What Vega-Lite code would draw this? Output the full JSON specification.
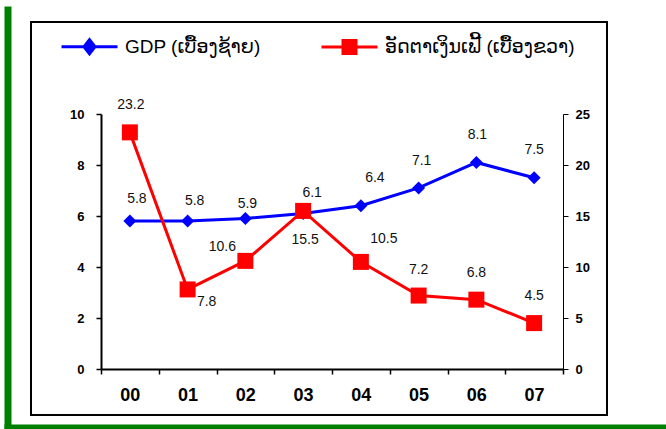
{
  "$schema": "https://vega.github.io/schema/vega-lite/v6.json",
  "width": 576,
  "height": 393,
  "autosize": {"type": "none"},
  "padding": {"left": 31, "top": 22, "right": 59, "bottom": 14},
  "background": "white",
  "config": {"view": {"stroke": "black", "strokeWidth": 2}, "font": "Liberation Sans"},
  "data": {"values": [
    {"year": "00", "gdp": 5.8, "infl": 23.2},
    {"year": "01", "gdp": 5.8, "infl": 7.8},
    {"year": "02", "gdp": 5.9, "infl": 10.6},
    {"year": "03", "gdp": 6.1, "infl": 15.5},
    {"year": "04", "gdp": 6.4, "infl": 10.5},
    {"year": "05", "gdp": 7.1, "infl": 7.2},
    {"year": "06", "gdp": 8.1, "infl": 6.8},
    {"year": "07", "gdp": 7.5, "infl": 4.5}
  ]},
  "resolve": {"scale": {"x": "independent", "y": "independent"}},
  "layer": [
    {
      "layer": [
        {
          "mark": {"type": "line", "strokeWidth": 3},
          "encoding": {
            "x": {"field": "year", "type": "ordinal", "scale": {"type": "band", "range": [70, 532], "paddingInner": 0, "paddingOuter": 0},
              "axis": {"orient": "bottom", "offset": -46, "title": null, "tickBand": "extent", "domainColor": "black", "domainWidth": 2, "tickColor": "black", "tickWidth": 1.5, "tickSize": 5, "labelFont": "Liberation Sans", "labelFontWeight": "bold", "labelFontSize": 18, "labelColor": "black", "labelPadding": 12, "labelAngle": 0, "grid": false}},
            "y": {"field": "gdp", "type": "quantitative", "scale": {"domain": [0, 10], "range": [347, 92], "nice": false, "zero": false},
              "axis": {"orient": "left", "offset": -70, "title": null, "values": [0, 2, 4, 6, 8, 10], "grid": false, "domainColor": "black", "domainWidth": 2, "tickColor": "black", "tickSize": 5, "tickWidth": 1.5, "labelFont": "Liberation Sans", "labelFontWeight": "bold", "labelFontSize": 13, "labelColor": "black", "labelPadding": 12}},
            "color": {"datum": "GDP (ເບື້ອງຊ້າຍ)",
              "scale": {"domain": ["GDP (ເບື້ອງຊ້າຍ)", "ອັດຕາເງິນເຟີ້ (ເບື້ອງຂວາ)"], "range": ["#0000ff", "#ff0000"]},
              "legend": {"orient": "none", "legendX": 47, "legendY": 13, "direction": "horizontal", "title": null, "symbolSize": 400, "labelFontSize": 19, "labelFont": "Liberation Sans, DejaVu Sans", "labelColor": "black", "labelOffset": 24, "labelLimit": 400, "columnPadding": 54,
                "encode": {"symbols": {"update": {
                  "shape": {"signal": "datum.value === 'GDP (ເບື້ອງຊ້າຍ)' ? 'M-2.8,0H2.8M0,-0.7L0.55,0L0,0.7L-0.55,0Z' : 'M-2.8,0H2.8M-0.65,-0.65H0.65V0.65H-0.65Z'"},
                  "fill": {"signal": "datum.value === 'GDP (ເບື້ອງຊ້າຍ)' ? '#0000ff' : '#ff0000'"},
                  "stroke": {"signal": "datum.value === 'GDP (ເບື້ອງຊ້າຍ)' ? '#0000ff' : '#ff0000'"},
                  "strokeWidth": {"value": 3},
                  "opacity": {"value": 1},
                  "fillOpacity": {"value": 1},
                  "size": {"value": 400}
                }}}}}
          }
        },
        {
          "mark": {"type": "point", "shape": "diamond", "filled": true, "size": 169, "color": "#0000ff", "opacity": 1},
          "encoding": {
            "x": {"field": "year", "type": "ordinal", "scale": {"type": "band", "range": [70, 532], "paddingInner": 0, "paddingOuter": 0}},
            "y": {"field": "gdp", "type": "quantitative", "scale": {"domain": [0, 10], "range": [347, 92], "nice": false, "zero": false}}
          }
        },
        {
          "mark": {"type": "text", "fontSize": 14, "color": "#111111", "align": "center", "baseline": "middle",
            "dx": {"expr": "[7,7,2,9,14,3,1,0][toNumber(datum.year)]"},
            "dy": {"expr": "[-22,-20,-15,-20,-28,-27,-27,-28][toNumber(datum.year)]"}},
          "encoding": {
            "x": {"field": "year", "type": "ordinal", "scale": {"type": "band", "range": [70, 532], "paddingInner": 0, "paddingOuter": 0}},
            "y": {"field": "gdp", "type": "quantitative", "scale": {"domain": [0, 10], "range": [347, 92], "nice": false, "zero": false}},
            "text": {"field": "gdp", "type": "quantitative", "format": ".1f"}
          }
        }
      ]
    },
    {
      "layer": [
        {
          "mark": {"type": "line", "strokeWidth": 3},
          "encoding": {
            "x": {"field": "year", "type": "ordinal", "scale": {"type": "band", "range": [70, 532], "paddingInner": 0, "paddingOuter": 0}, "axis": null},
            "y": {"field": "infl", "type": "quantitative", "scale": {"domain": [0, 25], "range": [347, 92], "nice": false, "zero": false},
              "axis": {"orient": "right", "offset": -44, "title": null, "values": [0, 5, 10, 15, 20, 25], "grid": false, "domainColor": "black", "domainWidth": 1, "tickColor": "black", "tickSize": 5, "tickWidth": 1, "labelFont": "Liberation Sans", "labelFontWeight": "bold", "labelFontSize": 13, "labelColor": "black", "labelPadding": 7}},
            "color": {"datum": "ອັດຕາເງິນເຟີ້ (ເບື້ອງຂວາ)"}
          }
        },
        {
          "mark": {"type": "point", "shape": "square", "filled": true, "size": 256, "color": "#ff0000", "opacity": 1},
          "encoding": {
            "x": {"field": "year", "type": "ordinal", "scale": {"type": "band", "range": [70, 532], "paddingInner": 0, "paddingOuter": 0}, "axis": null},
            "y": {"field": "infl", "type": "quantitative", "scale": {"domain": [0, 25], "range": [347, 92], "nice": false, "zero": false}}
          }
        },
        {
          "mark": {"type": "text", "fontSize": 14, "color": "#111111", "align": "center", "baseline": "middle",
            "dx": {"expr": "[1,19,-23,2,23,0,0,0][toNumber(datum.year)]"},
            "dy": {"expr": "[-27,13,-14,29,-23,-26,-27,-27][toNumber(datum.year)]"}},
          "encoding": {
            "x": {"field": "year", "type": "ordinal", "scale": {"type": "band", "range": [70, 532], "paddingInner": 0, "paddingOuter": 0}, "axis": null},
            "y": {"field": "infl", "type": "quantitative", "scale": {"domain": [0, 25], "range": [347, 92], "nice": false, "zero": false}},
            "text": {"field": "infl", "type": "quantitative", "format": ".1f"}
          }
        }
      ]
    },
    {
      "mark": {"type": "point", "opacity": 0},
      "encoding": {
        "x": {"field": "year", "type": "ordinal", "scale": {"type": "band", "range": [-27, 635], "paddingInner": 0, "paddingOuter": 0},
          "axis": {"orient": "bottom", "offset": 11.5, "title": null, "ticks": false, "labels": false, "grid": false, "domainColor": "#008000", "domainWidth": 5}},
        "y": {"field": "gdp", "type": "quantitative", "scale": {"domain": [0, 10], "range": [407, -16], "nice": false, "zero": false},
          "axis": {"orient": "left", "offset": 23.5, "title": null, "ticks": false, "labels": false, "grid": false, "domainColor": "#008000", "domainWidth": 7}}
      }
    }
  ]
}
